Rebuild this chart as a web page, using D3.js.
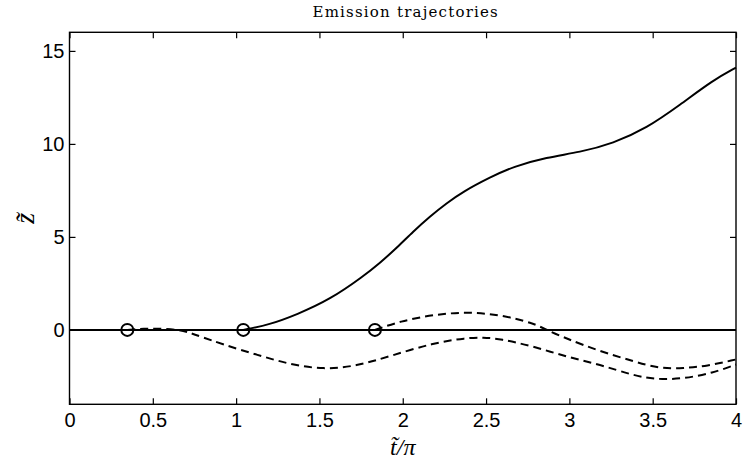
<!DOCTYPE html>
<html><head><meta charset="utf-8">
<script src="https://cdn.jsdelivr.net/npm/d3@7"></script>
<style>body{margin:0;background:#fff}svg{display:block}</style>
</head><body>
<svg id="chart" width="744" height="462"></svg>
<script>
// ---- data ----
const title = "Emission trajectories";
const xTicks = [0, 0.5, 1, 1.5, 2, 2.5, 3, 3.5, 4];
const xTickLabels = ["0", "0.5", "1", "1.5", "2", "2.5", "3", "3.5", "4"];
const yTicks = [0, 5, 10, 15];
const yTickLabels = ["0", "5", "10", "15"];
const xDomain = [0, 4];
const yDomain = [-4, 16];

// baseline z = 0
const baseT = [0, 4];
const baseZ = [0, 0];

// solid trajectory (emitted at t≈1.04)
const solidT = [1.043, 1.2, 1.363, 1.563, 1.763, 1.863, 1.963, 2.063, 2.163, 2.263, 2.363, 2.523, 2.663, 2.863, 3.063, 3.263, 3.463, 3.663, 3.863, 4.0];
const solidZ = [0, 0.28, 0.82, 1.63, 2.88, 3.6, 4.4, 5.29, 6.1, 6.81, 7.44, 8.2, 8.78, 9.28, 9.55, 10.03, 10.84, 12.09, 13.43, 14.1];

// dashed trajectory 1 (emitted at t≈0.35)
const dash1T = [0.347, 0.45, 0.55, 0.663, 0.723, 0.783, 0.923, 1.123, 1.323, 1.523, 1.723, 1.923, 2.183, 2.383, 2.483, 2.583, 2.783, 2.983, 3.183, 3.383, 3.523, 3.683, 3.863, 4.0];
const dash1Z = [0, 0.07, 0.07, 0.0, -0.16, -0.34, -0.79, -1.33, -1.86, -2.13, -1.95, -1.41, -0.7, -0.43, -0.4, -0.48, -0.88, -1.45, -1.86, -2.45, -2.67, -2.63, -2.31, -1.86];

// dashed trajectory 2 (emitted at t≈1.83)
const dash2T = [1.833, 1.983, 2.183, 2.383, 2.583, 2.783, 2.863, 2.983, 3.183, 3.383, 3.543, 3.683, 3.823, 4.0];
const dash2Z = [0, 0.46, 0.82, 0.97, 0.82, 0.37, 0.0, -0.47, -1.15, -1.68, -2.09, -2.06, -1.95, -1.59];

// emission points
const emitT = [0.347, 1.043, 1.833];
const emitZ = [0, 0, 0];

// ---- drawing ----
const svg = d3.select("#chart");
const L = 69.5, R = 736, T = 32.3, B = 404.3;
const x = d3.scaleLinear().domain(xDomain).range([L, R]);
const y = d3.scaleLinear().domain(yDomain).range([B, T]);

const zip = (a, b) => a.map((v, i) => [v, b[i]]);
const line = d3.line().x(d => x(d[0])).y(d => y(d[1])).curve(d3.curveBasis);

const g = svg.append("g");
g.append("path").datum(zip(baseT, baseZ)).attr("d", line)
  .attr("fill", "none").attr("stroke", "#000").attr("stroke-width", 2);
g.append("path").datum(zip(solidT, solidZ)).attr("d", line)
  .attr("fill", "none").attr("stroke", "#000").attr("stroke-width", 2);
[zip(dash1T, dash1Z), zip(dash2T, dash2Z)].forEach(d => {
  g.append("path").datum(d).attr("d", line)
    .attr("fill", "none").attr("stroke", "#000").attr("stroke-width", 2)
    .attr("stroke-dasharray", "8,5");
});
g.selectAll("circle.em").data(zip(emitT, emitZ)).enter().append("circle")
  .attr("cx", d => x(d[0])).attr("cy", d => y(d[1])).attr("r", 6)
  .attr("fill", "none").attr("stroke", "#000").attr("stroke-width", 2);

// axes box
svg.append("rect").attr("x", L).attr("y", T).attr("width", R - L).attr("height", B - T)
  .attr("fill", "none").attr("stroke", "#000").attr("stroke-width", 1.4);

const tickLen = 6;
const axB = d3.axisBottom(x).tickValues(xTicks).tickFormat((d, i) => xTickLabels[i]).tickSizeInner(-tickLen).tickSizeOuter(0).tickPadding(9);
const axT = d3.axisTop(x).tickValues(xTicks).tickFormat("").tickSizeInner(-tickLen).tickSizeOuter(0);
const axL = d3.axisLeft(y).tickValues(yTicks).tickFormat((d, i) => yTickLabels[i]).tickSizeInner(-tickLen).tickSizeOuter(0).tickPadding(5);
const axR = d3.axisRight(y).tickValues(yTicks).tickFormat("").tickSizeInner(-tickLen).tickSizeOuter(0);

function style(sel) {
  sel.select(".domain").remove();
  sel.selectAll(".tick line").attr("stroke", "#000").attr("stroke-width", 1.2);
  sel.selectAll(".tick text").attr("fill", "#000")
    .style("font-family", "'Liberation Sans', Arial, Helvetica, sans-serif").style("font-size", "20px");
}
svg.append("g").attr("transform", `translate(0,${B})`).call(axB).call(style);
svg.append("g").attr("transform", `translate(0,${T})`).call(axT).call(style);
svg.append("g").attr("transform", `translate(${L},0)`).call(axL).call(style);
svg.append("g").attr("transform", `translate(${R},0)`).call(axR).call(style);

// title
svg.append("text").attr("x", (L + R) / 2 + 3).attr("y", 17).attr("text-anchor", "middle")
  .style("font-family", "'DejaVu Serif', 'Liberation Serif', serif").style("font-size", "15px")
  .style("letter-spacing", "1.2px")
  .text(title);

// x label
svg.append("text").attr("x", (L + R) / 2).attr("y", 455).attr("text-anchor", "middle")
  .style("font-family", "'Liberation Serif', 'Times New Roman', serif").style("font-size", "24px").style("font-style", "italic")
  .text("t\u0303/\u03c0");

// y label
svg.append("text").attr("transform", `translate(34,${(T + B) / 2}) rotate(-90)`).attr("text-anchor", "middle")
  .style("font-family", "'Liberation Serif', 'Times New Roman', serif").style("font-size", "28px").style("font-style", "italic")
  .text("z\u0303");
</script>
</body></html>
